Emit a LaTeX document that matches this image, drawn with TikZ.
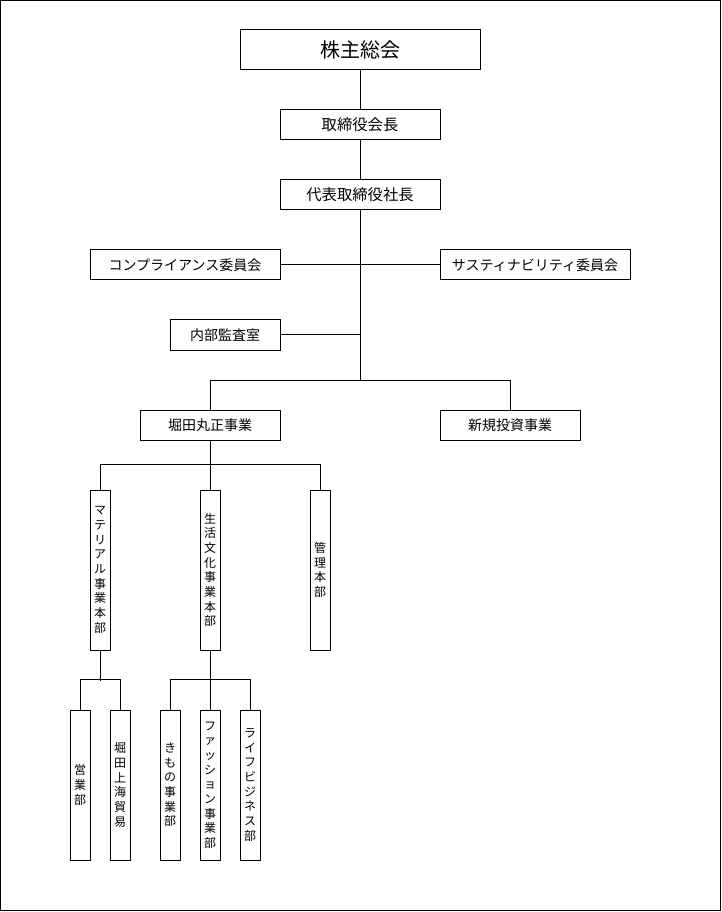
\documentclass[tikz,border=0pt]{standalone}
\usepackage{fontspec}
\newfontfamily\cjk{Noto Sans CJK JP}
\usepackage{tikz}

\tikzset{
  orgbox/.style={draw, line width=0.75pt, inner sep=0pt, align=center,
    minimum height=22.5pt, font=\fontsize{10.5}{12}\cjk},
  tallbox/.style={orgbox, minimum width=15pt, font=\fontsize{9}{11}\cjk},
}

\begin{document}
\begin{tikzpicture}[x=0.75pt,y=0.75pt,yscale=-1,xscale=1,line width=0.75pt]
\useasboundingbox (0,0) rectangle (721,912);
%Shape: Frame
\draw (0.5,0.5) rectangle (720.5,910.5);

% Top of the chart
\node[orgbox, minimum width=180pt, minimum height=30pt, font=\fontsize{15}{18}\cjk] (sokai) at (360,50) {株主総会};
\node[orgbox, minimum width=120pt, font=\fontsize{11.5}{14}\cjk] (kaicho) at (360,125) {取締役会長};
\node[orgbox, minimum width=120pt, font=\fontsize{11.5}{14}\cjk] (shacho) at (360,195) {代表取締役社長};

% Committees and audit
\node[orgbox, minimum width=142.5pt] (comp) at (185,265) {コンプライアンス委員会};
\node[orgbox, minimum width=142.5pt] (sus) at (535,265) {サスティナビリティ委員会};
\node[orgbox, minimum width=82.5pt] (kansa) at (225,335) {内部監査室};

% Businesses
\node[orgbox, minimum width=105pt] (horita) at (210,425) {堀田丸正事業};
\node[orgbox, minimum width=105pt] (shinki) at (510,425) {新規投資事業};

% Divisions
\node[tallbox, minimum height=120pt] (mat) at (100,570) {マ\\テ\\リ\\ア\\ル\\事\\業\\本\\部};
\node[tallbox, minimum height=120pt] (seikatsu) at (210,570) {生\\活\\文\\化\\事\\業\\本\\部};
\node[tallbox, minimum height=120pt] (kanri) at (320,570) {管\\理\\本\\部};

% Departments
\node[tallbox, minimum height=112.5pt] (eigyo) at (80,785) {営\\業\\部};
\node[tallbox, minimum height=112.5pt] (shanghai) at (120,785) {堀\\田\\上\\海\\貿\\易};
\node[tallbox, minimum height=112.5pt] (kimono) at (170,785) {き\\も\\の\\事\\業\\部};
\node[tallbox, minimum height=112.5pt] (fashion) at (210,785) {フ\\ァ\\ッ\\シ\\ョ\\ン\\事\\業\\部};
\node[tallbox, minimum height=112.5pt] (life) at (250,785) {ラ\\イ\\フ\\ビ\\ジ\\ネ\\ス\\部};

% Connectors
\draw (sokai) -- (kaicho);
\draw (kaicho) -- (shacho);
\draw (shacho.south) -- ++(0,170) coordinate (fork);
\draw (comp) -- (sus);
\draw (kansa.east) -- (kansa.east -| fork);
\draw (horita.north) |- (fork) -| (shinki.north);

\draw (horita.south) -- (seikatsu.north);
\draw (mat.north) -- ++(0,-25) -| (kanri.north);

\draw (mat.south) -- ++(0,30);
\draw (eigyo.north) -- ++(0,-30) -| (shanghai.north);
\draw (seikatsu.south) -- (fashion.north);
\draw (kimono.north) -- ++(0,-30) -| (life.north);
\end{tikzpicture}
\end{document}
